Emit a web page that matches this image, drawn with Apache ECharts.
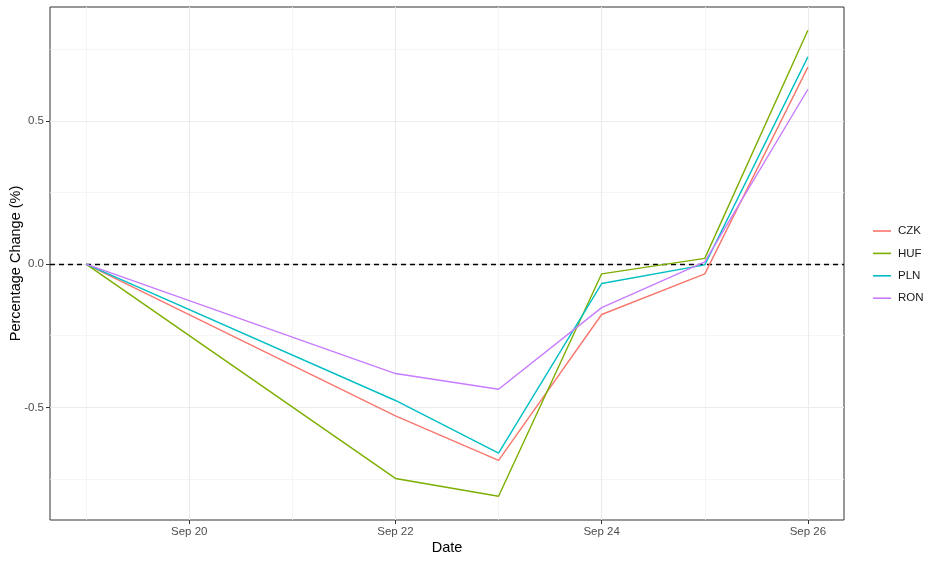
<!DOCTYPE html>
<html>
<head>
<meta charset="utf-8">
<script src="https://cdn.jsdelivr.net/npm/echarts@6/dist/echarts.min.js"></script>
<style>
html,body{margin:0;padding:0;background:#fff;}
#chart{width:936px;height:562px;}
</style>
</head>
<body>
<div id="chart"></div>
<script>
// Day of month (September)
var days = [19, 22, 23, 24, 25, 26];
var CZK = [0, -0.530, -0.685, -0.176, -0.034, 0.687];
var HUF = [0, -0.748, -0.810, -0.034, 0.020, 0.816];
var PLN = [0, -0.476, -0.660, -0.068, -0.003, 0.723];
var RON = [0, -0.382, -0.437, -0.152, 0.008, 0.610];
var seriesNames = ['CZK', 'HUF', 'PLN', 'RON'];
var seriesColors = ['#F8766D', '#7CAE00', '#00BFC4', '#C77CFF'];
var xMajor = [20, 22, 24, 26];
var xMinor = [19, 21, 23, 25];
var yMajor = [-0.5, 0, 0.5];
var yMinor = [-0.75, -0.25, 0.25, 0.75];
var xRange = [18.65, 26.35];
var yRange = [-0.893, 0.897];

var values = [CZK, HUF, PLN, RON];
var font = 'Liberation Sans';

function pairs(vals) {
  return days.map(function (d, i) { return [d, vals[i]]; });
}

var series = seriesNames.map(function (n, i) {
  return {
    name: n,
    type: 'line',
    xAxisIndex: 0,
    yAxisIndex: 0,
    data: pairs(values[i]),
    symbol: 'none',
    lineStyle: { color: seriesColors[i], width: 1.4 },
    itemStyle: { color: seriesColors[i] },
    z: 5,
    animation: false
  };
});
series.push({
  name: 'zero',
  type: 'line',
  data: [],
  symbol: 'none',
  markLine: {
    silent: true,
    symbol: 'none',
    label: { show: false },
    lineStyle: { color: '#000', type: [5, 4], width: 1.4 },
    data: [{ yAxis: 0 }],
    animation: false
  },
  z: 6
});

var grid = { left: 50, top: 7, right: 92, bottom: 42, containLabel: false, outerBoundsMode: 'none',
  show: true, borderColor: '#333333', borderWidth: 1, backgroundColor: '#fff' };

var option = {
  animation: false,
  backgroundColor: '#fff',
  grid: grid,
  legend: {
    orient: 'vertical',
    left: 868,
    top: 219,
    icon: 'rect',
    itemWidth: 18,
    itemHeight: 1.6,
    itemGap: 8.4,
    data: seriesNames,
    textStyle: { fontFamily: font, fontSize: 11.5, color: '#1a1a1a', height: 14, lineHeight: 14, padding: [0, 0, 0, 2] }
  },
  xAxis: [
    {
      type: 'value', min: xRange[0], max: xRange[1],
      name: 'Date', nameLocation: 'middle', nameGap: 20, nameMoveOverlap: false,
      nameTextStyle: { fontFamily: font, fontSize: 14.5, color: '#000' },
      axisLine: { show: false, onZero: false },
      axisTick: { show: true, customValues: xMajor, length: 4, lineStyle: { color: '#333333' } },
      axisLabel: { customValues: xMajor, fontFamily: font, fontSize: 11.5, color: '#4D4D4D', margin: 6,
        formatter: function (v) { return 'Sep ' + v; } },
      splitLine: { show: true, lineStyle: { color: '#EBEBEB', width: 1.1 } }
    },
    {
      type: 'value', min: xRange[0], max: xRange[1], position: 'bottom',
      axisLine: { show: false, onZero: false },
      axisTick: { show: false, customValues: xMinor },
      axisLabel: { show: false, customValues: xMinor },
      splitLine: { show: true, lineStyle: { color: '#F2F2F2', width: 0.8 } }
    }
  ],
  yAxis: [
    {
      type: 'value', min: yRange[0], max: yRange[1],
      name: 'Percentage Change (%)', nameLocation: 'middle', nameGap: 27, nameRotate: 90, nameMoveOverlap: false,
      nameTextStyle: { fontFamily: font, fontSize: 14.5, color: '#000' },
      axisLine: { show: false, onZero: false },
      axisTick: { show: true, customValues: yMajor, length: 4, lineStyle: { color: '#333333' } },
      axisLabel: { customValues: yMajor, fontFamily: font, fontSize: 11.5, color: '#4D4D4D', margin: 6,
        formatter: function (v) { return v.toFixed(1); } },
      splitLine: { show: true, lineStyle: { color: '#EBEBEB', width: 1.1 } }
    },
    {
      type: 'value', min: yRange[0], max: yRange[1], position: 'left',
      axisLine: { show: false, onZero: false },
      axisTick: { show: false, customValues: yMinor },
      axisLabel: { show: false, customValues: yMinor },
      splitLine: { show: true, lineStyle: { color: '#F2F2F2', width: 0.8 } }
    }
  ],
  series: series
};

var chart = echarts.init(document.getElementById('chart'), null, { renderer: 'canvas' });
chart.setOption(option);
</script>
</body>
</html>
